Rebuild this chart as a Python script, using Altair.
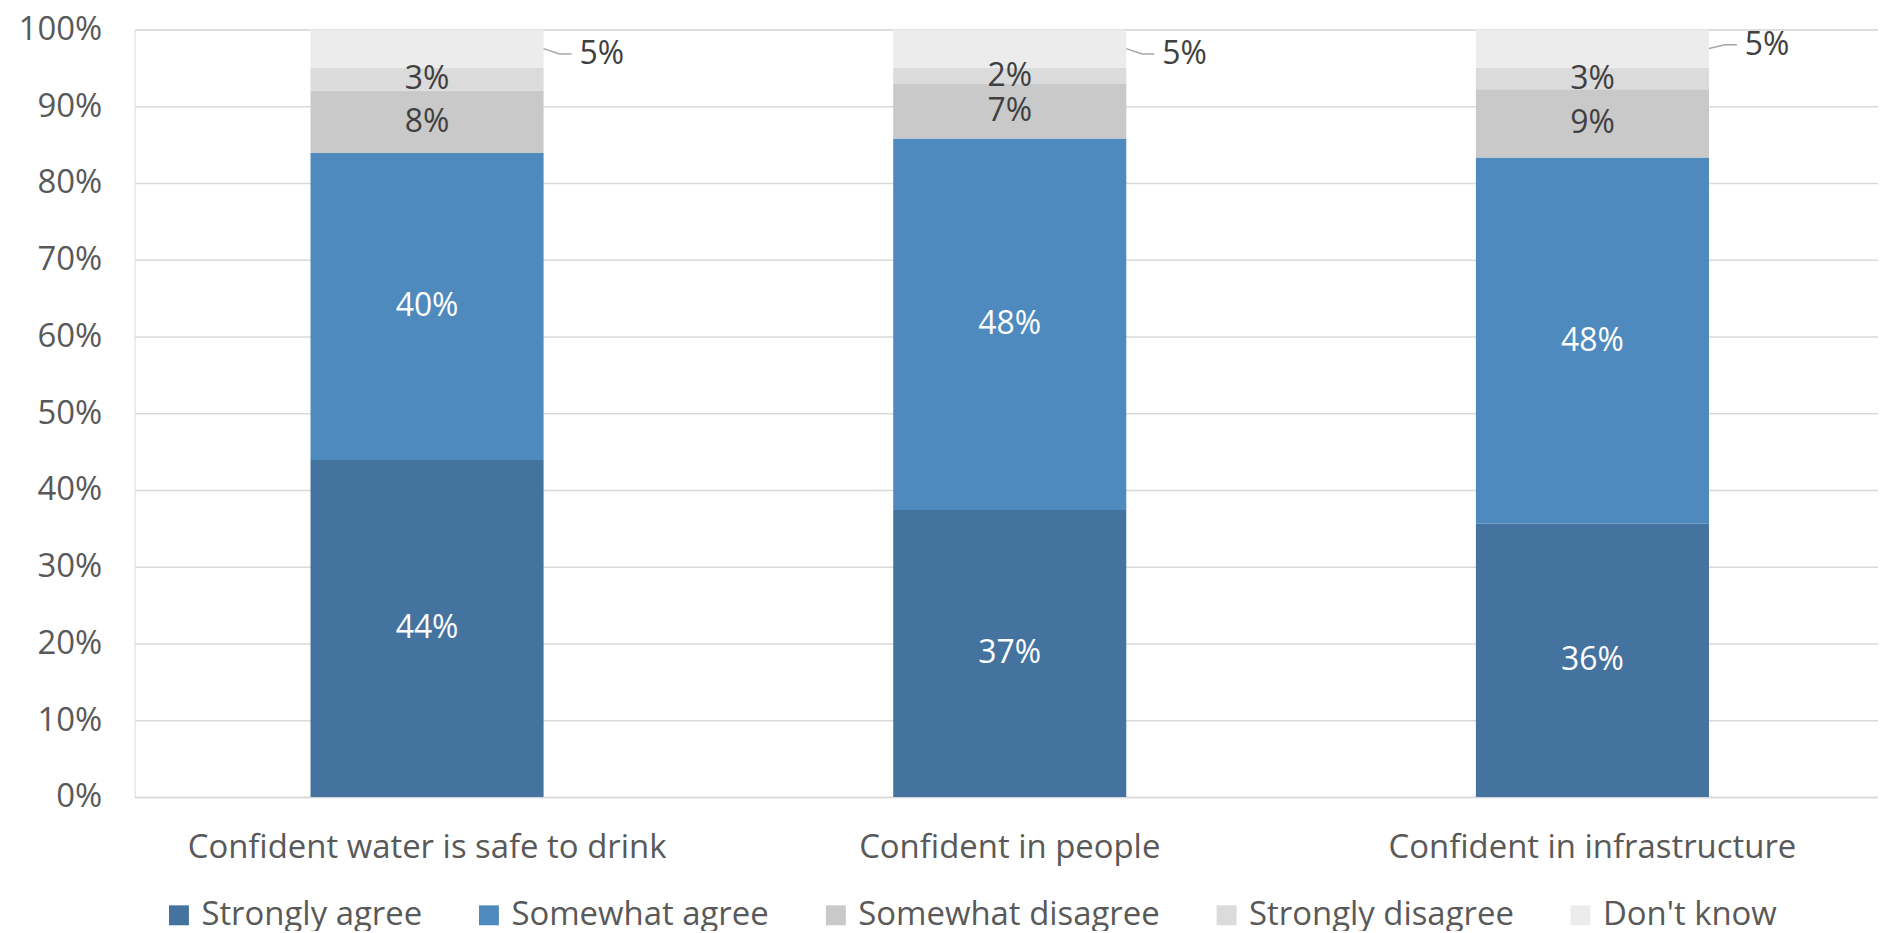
import altair as alt
import pandas as pd

categories = ["Confident water is safe to drink", "Confident in people", "Confident in infrastructure"]
responses = ["Strongly agree", "Somewhat agree", "Somewhat disagree", "Strongly disagree", "Don't know"]
strongly_agree = [43.9, 37.4, 35.6]
somewhat_agree = [40.0, 48.4, 47.7]
somewhat_disagree = [8.1, 7.1, 8.9]
strongly_disagree = [3.0, 2.1, 2.8]
dont_know = [5.0, 5.0, 5.0]
dk_label_y = [96.8, 96.8, 98.0]

colors = ["#44739F", "#4F8ABE", "#C9C9C9", "#DBDBDB", "#ECECEC"]
text_colors = ["#FFFFFF", "#FFFFFF", "#404040", "#404040", "#404040"]

series = [strongly_agree, somewhat_agree, somewhat_disagree, strongly_disagree, dont_know]
rows = []
for ci, cat in enumerate(categories):
    cum = 0.0
    for ri, resp in enumerate(responses):
        v = series[ri][ci]
        rows.append({
            "cat": cat, "resp": resp, "order": ri, "v": v,
            "y0": cum, "y1": cum + v, "mid": cum + v / 2,
            "label": f"{round(v):.0f}%", "tcolor": text_colors[ri],
        })
        cum += v
df = pd.DataFrame(rows)

FONT = "Open Sans"
FS = 33
FS_BAR = 32

xenc = alt.X("cat:N", sort=categories, title=None,
             scale=alt.Scale(paddingInner=0.6, paddingOuter=0.296, align=0.51),
             axis=alt.Axis(labelAngle=0, labelFontSize=FS, labelFont=FONT, labelColor="#595959",
                           labelLimit=0, ticks=False, domainColor="#D9D9D9", domainWidth=1.5,
                           labelPadding=35))
yscale = alt.Scale(domain=[0, 100])

bars = alt.Chart(df).mark_bar().encode(
    x=xenc,
    y=alt.Y("y0:Q", scale=yscale, title=None,
            axis=alt.Axis(values=list(range(0, 101, 10)), labelExpr="datum.value + '%'",
                          labelFontSize=FS, labelFont=FONT, labelColor="#595959",
                          ticks=False, domain=False, gridColor="#D9D9D9", gridWidth=1.5,
                          labelPadding=33)),
    y2="y1:Q",
    color=alt.Color("resp:N", sort=responses,
                    scale=alt.Scale(domain=responses, range=colors),
                    legend=alt.Legend(title=None, orient="none", direction="horizontal",
                                      legendX=28, legendY=872,
                                      symbolType="square", symbolSize=400, symbolStrokeWidth=0,
                                      labelFontSize=FS, labelFont=FONT, labelColor="#595959",
                                      labelLimit=0, labelOffset=6, columnPadding=50, columns=5)),
)

inlabels = alt.Chart(df[df["resp"] != "Don't know"]).mark_text(
    fontSize=FS_BAR, font=FONT, baseline="middle", align="center"
).encode(
    x=alt.X("cat:N", sort=categories),
    y=alt.Y("mid:Q", scale=yscale),
    text="label:N",
    color=alt.Color("tcolor:N", scale=None),
)

dk = pd.DataFrame({
    "cat": categories,
    "start": [100 - d / 2 for d in dont_know],
    "end": dk_label_y,
    "label": [f"{round(d):.0f}%" for d in dont_know],
})

leader1 = alt.Chart(dk).mark_rule(color="#A6A6A6", strokeWidth=1.5, x2Offset=16).encode(
    x=alt.X("cat:N", sort=categories, bandPosition=1),
    x2=alt.X2("cat:N", bandPosition=1),
    y=alt.Y("start:Q", scale=yscale),
    y2="end:Q",
)
leader2 = alt.Chart(dk).mark_rule(color="#A6A6A6", strokeWidth=1.5, xOffset=16, x2Offset=28).encode(
    x=alt.X("cat:N", sort=categories, bandPosition=1),
    x2=alt.X2("cat:N", bandPosition=1),
    y=alt.Y("end:Q", scale=yscale),
)
dklabels = alt.Chart(dk).mark_text(fontSize=FS_BAR, font=FONT, align="left", baseline="middle",
                                    dx=36, color="#404040").encode(
    x=alt.X("cat:N", sort=categories, bandPosition=1),
    y=alt.Y("end:Q", scale=yscale),
    text="label:N",
)

chart = alt.layer(bars, inlabels, leader1, leader2, dklabels).properties(
    width=1749, height=770,
    padding={"left": 127, "top": 20, "right": 0, "bottom": 133},
    autosize=alt.AutoSizeParams(type="none"),
).configure_view(stroke=None).configure(background="white")

chart.save("out.html", embed_options={"renderer": "svg", "actions": False})
